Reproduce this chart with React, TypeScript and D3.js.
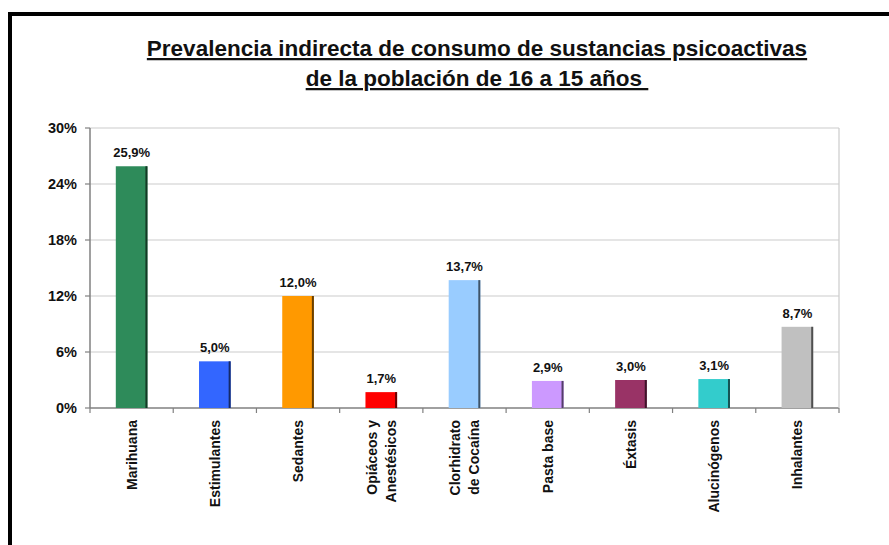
import React from "react";
import * as d3 from "d3";

const categories = [
  "Marihuana",
  "Estimulantes",
  "Sedantes",
  "Opiáceos y\nAnestésicos",
  "Clorhidrato\nde Cocaína",
  "Pasta base",
  "Éxtasis",
  "Alucinógenos",
  "Inhalantes",
];
const values = [25.9, 5.0, 12.0, 1.7, 13.7, 2.9, 3.0, 3.1, 8.7];
const colors = [
  "#2e8b5a",
  "#3366ff",
  "#ff9900",
  "#ff0000",
  "#99ccff",
  "#cc99ff",
  "#993366",
  "#33cccc",
  "#c0c0c0",
];
const yTicks = [0, 6, 12, 18, 24, 30];
const titleLines = [
  "Prevalencia indirecta de consumo de sustancias psicoactivas",
  "de la población de 16 a 15 años\u00a0",
];

const W = 889;
const H = 545;
const plot = { left: 90, right: 839, top: 128, bottom: 408 };
const FONT = "'Liberation Sans', Arial, sans-serif";

export default function App() {
  const x = d3
    .scaleBand<string>()
    .domain(categories)
    .range([plot.left, plot.right])
    .padding(0);
  const y = d3.scaleLinear().domain([0, 30]).range([plot.bottom, plot.top]);
  const barW = x.bandwidth() * 0.38;
  const fmt = (v: number) => v.toFixed(1).replace(".", ",") + "%";

  return (
    <svg
      width={W}
      height={H}
      style={{ position: "absolute", left: 0, top: 0, background: "#fff" }}
      fontFamily={FONT}
    >
      <rect x={10} y={14} width={W + 20} height={H + 20} fill="#fff" stroke="#000" strokeWidth={4} />

      {titleLines.map((t, i) => (
        <text
          key={i}
          x={477}
          y={56 + i * 30}
          textAnchor="middle"
          fontSize={22.5}
          fontWeight="bold"
          fill="#111"
          style={{ textDecoration: "underline", whiteSpace: "pre" }}
        >
          {t}
        </text>
      ))}

      {/* gridlines */}
      {yTicks.map((t) => (
        <line
          key={"g" + t}
          x1={plot.left}
          x2={plot.right}
          y1={y(t)}
          y2={y(t)}
          stroke={t === 0 ? "#808080" : "#cccccc"}
          strokeWidth={t === 0 ? 1.5 : 1.2}
        />
      ))}
      {/* right border of plot */}
      <line x1={plot.right} x2={plot.right} y1={plot.top} y2={plot.bottom} stroke="#cccccc" strokeWidth={1.2} />
      {/* y axis */}
      <line x1={plot.left} x2={plot.left} y1={plot.top} y2={plot.bottom} stroke="#808080" strokeWidth={1.5} />
      {yTicks.map((t) => (
        <g key={"yt" + t}>
          <line x1={plot.left - 5} x2={plot.left} y1={y(t)} y2={y(t)} stroke="#808080" strokeWidth={1.2} />
          <text
            x={plot.left - 13}
            y={y(t)}
            dy="0.36em"
            textAnchor="end"
            fontSize={14.5}
            fontWeight="bold"
            fill="#111"
          >
            {t + "%"}
          </text>
        </g>
      ))}
      {/* x ticks */}
      {d3.range(categories.length + 1).map((i) => {
        const xx = plot.left + i * x.step();
        return (
          <line key={"xt" + i} x1={xx} x2={xx} y1={plot.bottom} y2={plot.bottom + 5} stroke="#808080" strokeWidth={1.2} />
        );
      })}

      {/* bars */}
      {categories.map((c, i) => {
        const cx = (x(c) as number) + x.bandwidth() / 2;
        const top = y(values[i]);
        const h = plot.bottom - top;
        const dark = d3.color(colors[i])!.darker(2.5).formatHex();
        return (
          <g key={"b" + i}>
            <rect x={cx - barW / 2} y={top} width={barW} height={h} fill={colors[i]} />
            <rect x={cx + barW / 2 - 2} y={top} width={2} height={h} fill={dark} />
            <text
              x={cx}
              y={top - 9}
              textAnchor="middle"
              fontSize={13}
              fontWeight="bold"
              fill="#111"
            >
              {fmt(values[i])}
            </text>
          </g>
        );
      })}

      {/* category labels */}
      {categories.map((c, i) => {
        const cx = (x(c) as number) + x.bandwidth() / 2;
        const lines = c.split("\n");
        const spacing = 18.5;
        return (
          <text
            key={"c" + i}
            transform={`translate(${cx},${plot.bottom + 12}) rotate(-90)`}
            textAnchor="end"
            fontSize={14}
            fontWeight="bold"
            fill="#111"
          >
            {lines.map((l, j) => (
              <tspan key={j} x={0} y={(j - (lines.length - 1) / 2) * spacing} dy="0.36em">
                {l}
              </tspan>
            ))}
          </text>
        );
      })}
    </svg>
  );
}
